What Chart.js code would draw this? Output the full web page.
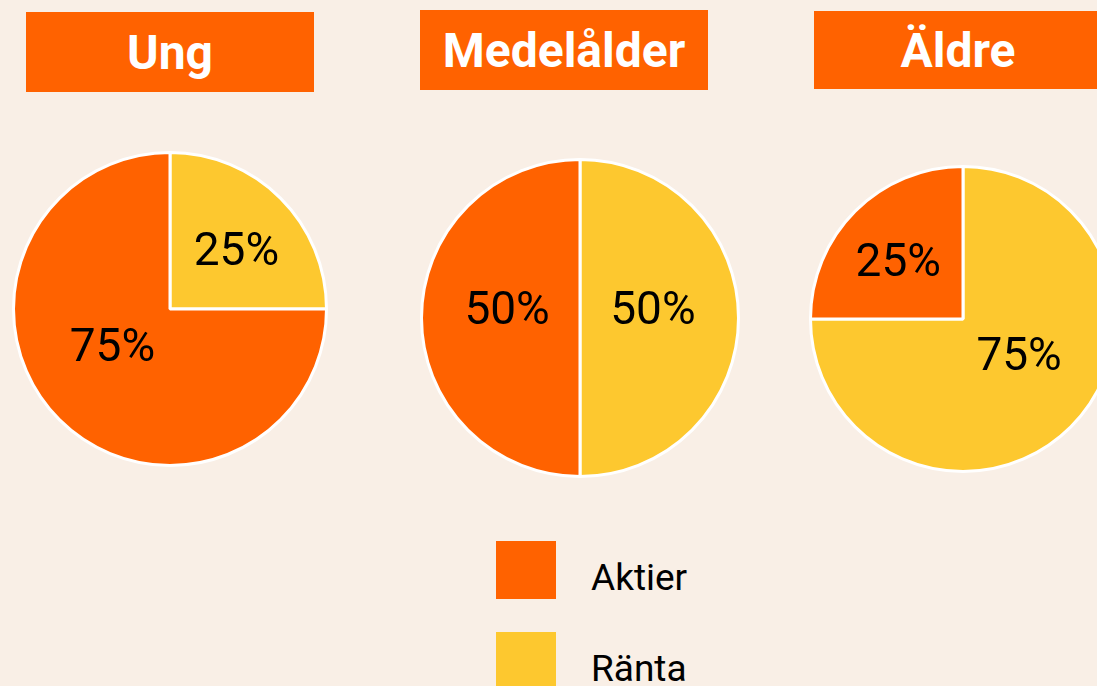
<!DOCTYPE html>
<html lang="sv">
  <head>
    <meta charset="UTF-8" />
    <title>Aktier och ränta per ålder</title>
    <script src="https://cdn.jsdelivr.net/npm/chart.js@4.4.1/dist/chart.umd.min.js"></script>
    <style>
      * {
        box-sizing: border-box;
      }

      body {
        margin: 0;
        width: 1097px;
        height: 686px;
        overflow: hidden;
        position: relative;
        background-color: #f9efe6;
        font-family: Roboto, Arial, sans-serif;
      }

      .title {
        position: absolute;
        background-color: #ff6200;
        color: white;
        font-weight: bold;
        font-size: 48px;
        display: flex;
        align-items: center;
        justify-content: center;
        width: 288px;
      }

      canvas {
        position: absolute;
      }

      .legend-item {
        position: absolute;
        left: 496px;
        height: 58px;
        display: flex;
        align-items: center;
        font-size: 37px;
        color: black;
      }

      .legend-item span {
        display: inline-block;
        width: 60px;
        height: 58px;
        margin-right: 35px;
      }

      .legend-item b {
        font-weight: normal;
        position: relative;
        top: 7px;
      }
    </style>
  </head>
  <body>
    <div class="title" style="left: 26px; top: 12px; height: 80px;">Ung</div>
    <div class="title" style="left: 420px; top: 10px; height: 80px;">Medelålder</div>
    <div class="title" style="left: 814px; top: 11px; height: 78px;">Äldre</div>

    <canvas id="pie0" width="316" height="316" style="left: 12px; top: 151px;"></canvas>
    <canvas id="pie1" width="320" height="320" style="left: 420px; top: 158px;"></canvas>
    <canvas id="pie2" width="308" height="308" style="left: 809px; top: 165px;"></canvas>

    <div id="legend"></div>

    <script>
      // data
      const groups = ["Ung", "Medelålder", "Äldre"];
      const aktier = [75, 50, 25];
      const ranta = [25, 50, 75];
      const legendLabels = ["Aktier", "Ränta"];

      const orange = "#ff6200";
      const yellow = "#fdc82f";

      // draws "xx%" inside each slice
      const sliceLabels = {
        id: "sliceLabels",
        afterDatasetsDraw(chart) {
          const ctx = chart.ctx;
          const ds = chart.data.datasets[0];
          ctx.save();
          ctx.fillStyle = "black";
          ctx.font = "46px Roboto";
          ctx.textAlign = "center";
          ctx.textBaseline = "middle";
          chart.getDatasetMeta(0).data.forEach(function(arc, i) {
            const p = arc.getProps(["x", "y", "startAngle", "endAngle", "outerRadius"], true);
            const mid = (p.startAngle + p.endAngle) / 2;
            const v = ds.data[i];
            const fx = v < 50 ? 0.6 : v > 50 ? 0.52 : 0.46;
            const fy = v < 50 ? 0.45 : 0.42;
            ctx.fillText(
              v + "%",
              p.x + Math.cos(mid) * p.outerRadius * fx,
              p.y + Math.sin(mid) * p.outerRadius * fy - 6
            );
          });
          ctx.restore();
        }
      };

      groups.forEach(function(g, i) {
        new Chart(document.getElementById("pie" + i), {
          type: "pie",
          data: {
            labels: ["Ränta", "Aktier"],
            datasets: [
              {
                label: g,
                data: [ranta[i], aktier[i]],
                backgroundColor: [yellow, orange],
                borderColor: "white",
                borderWidth: 3
              }
            ]
          },
          options: {
            responsive: false,
            animation: false,
            devicePixelRatio: 1,
            layout: { padding: 0 },
            plugins: {
              legend: { display: false },
              tooltip: { enabled: false }
            }
          },
          plugins: [sliceLabels]
        });
      });

      const legendColors = [orange, yellow];
      const legend = document.getElementById("legend");
      legendLabels.forEach(function(l, i) {
        const item = document.createElement("div");
        item.className = "legend-item";
        item.style.top = 541 + i * 91 + "px";
        item.innerHTML = '<span style="background:' + legendColors[i] + '"></span><b>' + l + "</b>";
        legend.appendChild(item);
      });
    </script>
  </body>
</html>
